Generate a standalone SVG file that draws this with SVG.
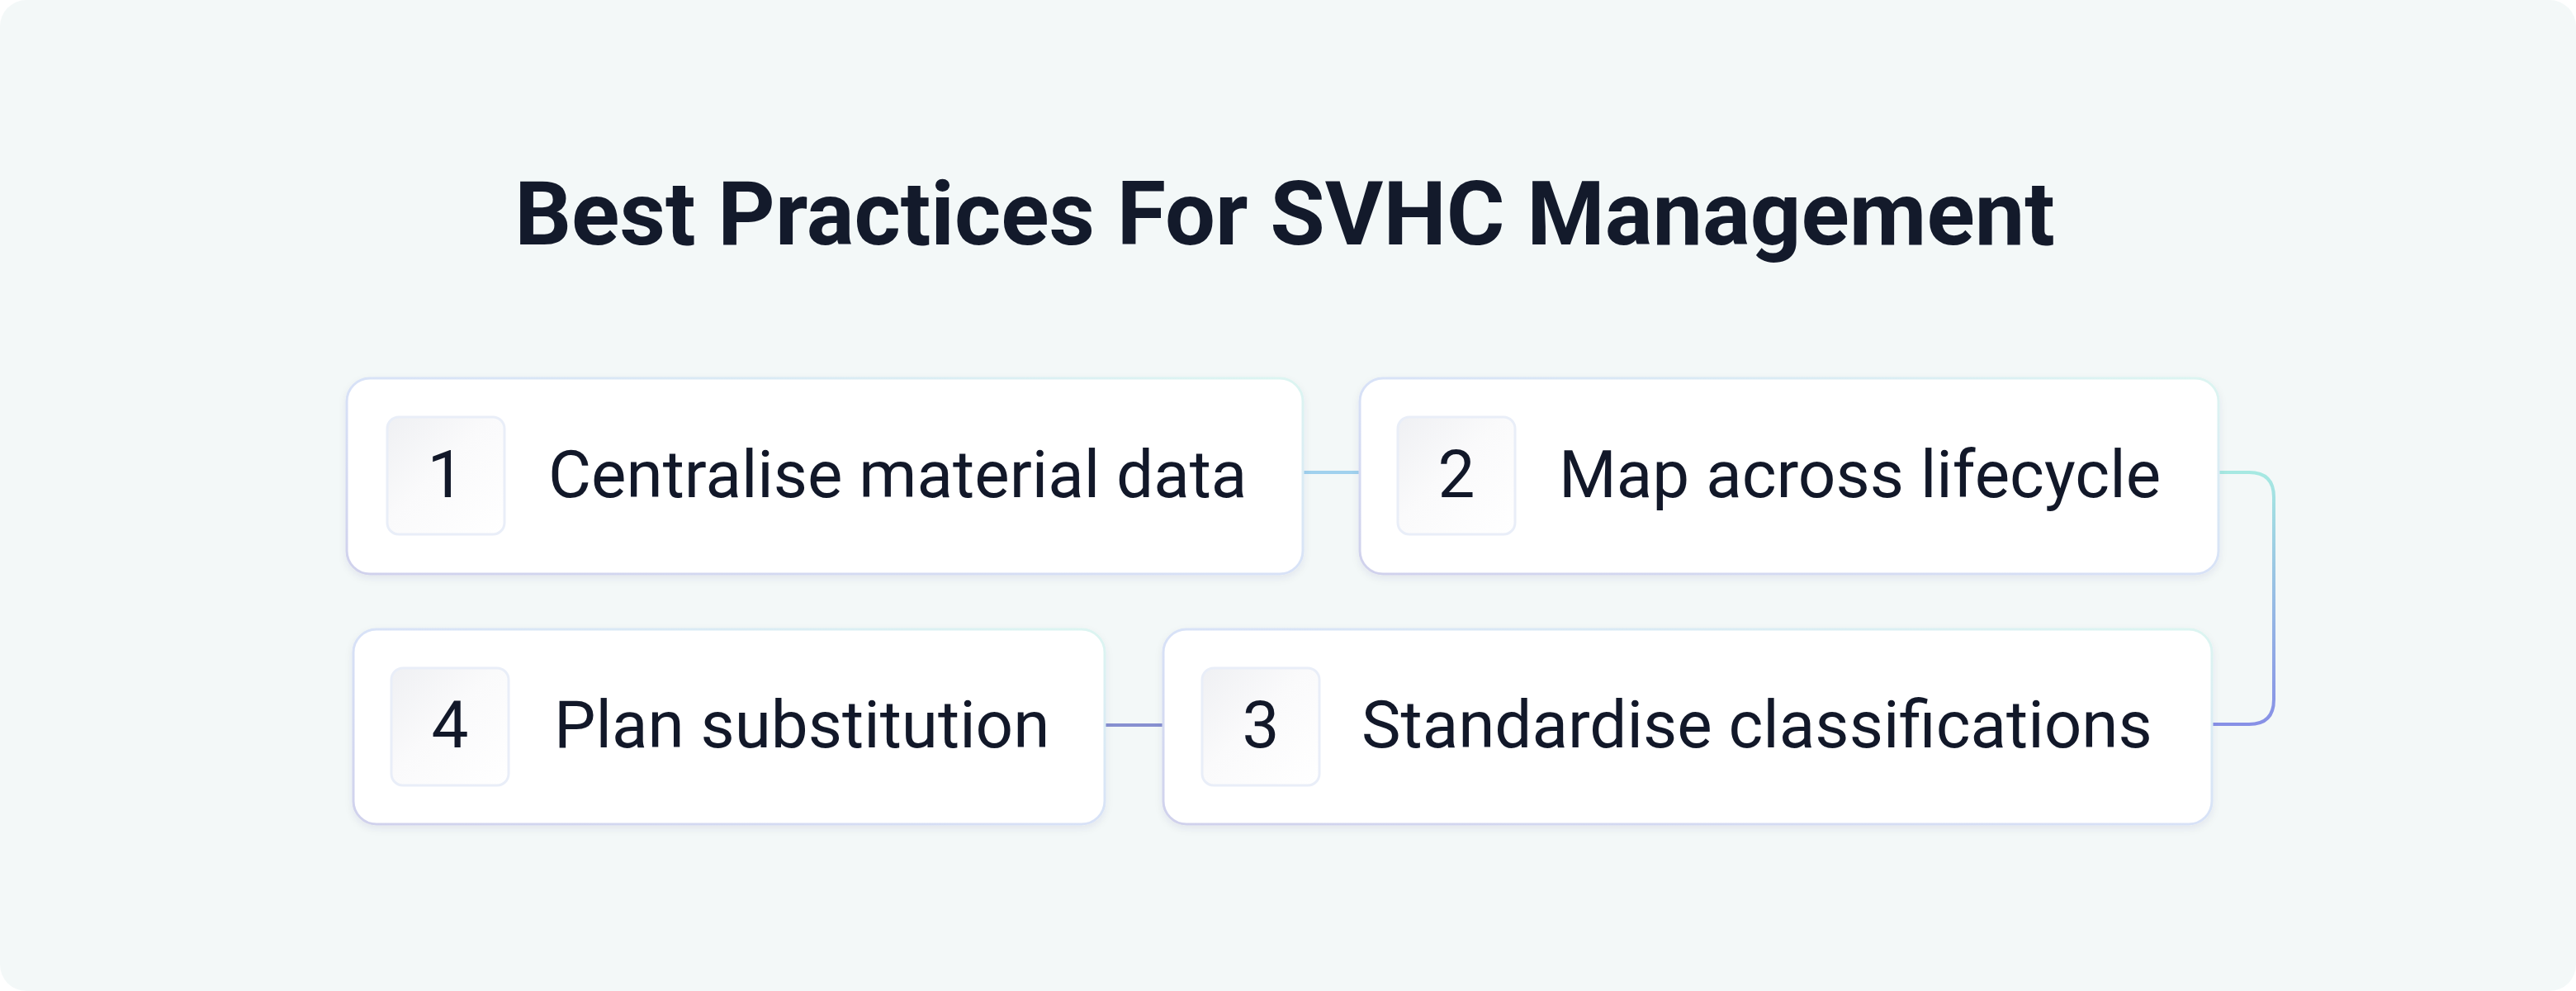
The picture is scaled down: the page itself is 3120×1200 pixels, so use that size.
<svg xmlns="http://www.w3.org/2000/svg" width="3120" height="1200" viewBox="0 0 3120 1200">
  <defs>
    <linearGradient id="nodeStroke" x1="1" y1="0" x2="0" y2="1">
      <stop offset="0" stop-color="#dcf5f1"/>
      <stop offset="0.5" stop-color="#d8e2f7"/>
      <stop offset="1" stop-color="#d0d1ec"/>
    </linearGradient>
    <linearGradient id="badgeFill" x1="0" y1="0" x2="1" y2="1">
      <stop offset="0" stop-color="#eff0f3"/>
      <stop offset="0.45" stop-color="#fafafb"/>
      <stop offset="1" stop-color="#ffffff"/>
    </linearGradient>
    <linearGradient id="conn23" gradientUnits="userSpaceOnUse" x1="0" y1="572" x2="0" y2="877">
      <stop offset="0" stop-color="#a6e9e2"/>
      <stop offset="1" stop-color="#8790e6"/>
    </linearGradient>
    <filter id="shadow" x="-5%" y="-10%" width="110%" height="130%">
      <feDropShadow dx="0" dy="4" stdDeviation="5" flood-color="#1e2a5a" flood-opacity="0.07"/>
    </filter>
    <style>
      .node { fill: #ffffff; stroke: url(#nodeStroke); stroke-width: 3; filter: url(#shadow); }
      .badge { fill: url(#badgeFill); stroke: #e9eef8; stroke-width: 3; }
      .num { font-family: Roboto, "Liberation Sans", sans-serif; font-size: 80px; fill: #121829; text-anchor: middle; }
      .label { font-family: Roboto, "Liberation Sans", sans-serif; font-size: 80px; fill: #121829; }
      .title { font-family: Roboto, "Liberation Sans", sans-serif; font-size: 108px; font-weight: 700; fill: #131a2b; text-anchor: middle; }
      .conn { fill: none; stroke-width: 4; }
    </style>
  </defs>
  <rect x="0" y="0" width="3120" height="1200" fill="#ffffff"/>
  <rect x="0" y="0" width="3120" height="1200" rx="32" ry="32" fill="#f3f8f8"/>

  <text class="title" x="1556" y="296">Best Practices For SVHC Management</text>

  <g id="connectors">
    <path class="conn" d="M1578,572 H1647" stroke="#a0d1ee"/>
    <path class="conn" d="M2687,572 H2724 Q2754,572 2754,602 V847 Q2754,877 2724,877 H2679" stroke="url(#conn23)"/>
    <path class="conn" d="M1338,878 H1409" stroke="#8790d0"/>
  </g>

  <g id="node1">
    <rect class="node" x="420" y="458" width="1158" height="237" rx="28"/>
    <rect class="badge" x="469" y="505" width="142" height="142" rx="14"/>
    <text class="num" x="540" y="602">1</text>
    <text class="label" x="664" y="602">Centralise material data</text>
  </g>

  <g id="node2">
    <rect class="node" x="1647" y="458" width="1040" height="237" rx="28"/>
    <rect class="badge" x="1693" y="505" width="142" height="142" rx="14"/>
    <text class="num" x="1764" y="602">2</text>
    <text class="label" x="1888" y="602">Map across lifecycle</text>
  </g>

  <g id="node3">
    <rect class="node" x="1409" y="762" width="1270" height="236" rx="28"/>
    <rect class="badge" x="1456" y="809" width="142" height="142" rx="14"/>
    <text class="num" x="1527" y="905">3</text>
    <text class="label" x="1649" y="905">Standardise classifications</text>
  </g>

  <g id="node4">
    <rect class="node" x="428" y="762" width="910" height="236" rx="28"/>
    <rect class="badge" x="474" y="809" width="142" height="142" rx="14"/>
    <text class="num" x="545" y="905">4</text>
    <text class="label" x="671" y="905">Plan substitution</text>
  </g>
</svg>
